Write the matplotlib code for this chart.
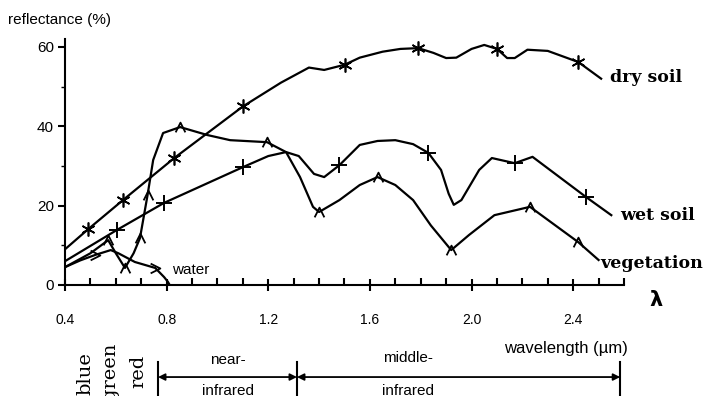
import matplotlib.pyplot as plt
import numpy as np

# curves (wavelength in um, reflectance in %)
dry_x = [0.4, 0.49, 0.63, 0.83, 1.1, 1.25, 1.36, 1.42, 1.5, 1.56, 1.65, 1.72, 1.79, 1.85,
         1.9, 1.94, 2.0, 2.05, 2.1, 2.14, 2.17, 2.22, 2.3, 2.42, 2.51]
dry_y = [9, 14, 21.5, 32, 45, 51, 54.8, 54.2, 55.5, 57.3, 58.8, 59.5, 59.7, 58.5,
         57.2, 57.3, 59.5, 60.5, 59.5, 57.2, 57.2, 59.3, 59, 56.2, 52]
dry_mx = [0.49, 0.63, 0.83, 1.1, 1.5, 1.79, 2.1, 2.42]
dry_my = [14, 21.5, 32, 45, 55.5, 59.7, 59.5, 56.2]

wet_x = [0.4, 0.605, 0.79, 1.1, 1.2, 1.27, 1.32, 1.38, 1.42, 1.48, 1.56, 1.63, 1.70, 1.77,
         1.83, 1.88, 1.91, 1.93, 1.96, 2.03, 2.08, 2.17, 2.24, 2.45, 2.55]
wet_y = [6, 13.9, 20.7, 29.7, 32.5, 33.5, 32.5, 28, 27.2, 30.2, 35.3, 36.3, 36.5, 35.5,
         33.3, 29, 23, 20.2, 21.4, 29, 32, 30.7, 32.3, 22.2, 17.6]
wet_mx = [0.605, 0.79, 1.1, 1.48, 1.83, 2.17, 2.45]
wet_my = [13.9, 20.7, 29.7, 30.2, 33.3, 30.7, 22.2]

veg_x = [0.4, 0.5, 0.57, 0.6, 0.636, 0.67, 0.695, 0.725, 0.747, 0.786, 0.853, 0.96, 1.05,
         1.195, 1.27, 1.325, 1.376, 1.40, 1.48, 1.56, 1.63, 1.70, 1.77, 1.84, 1.92, 1.99,
         2.09, 2.23, 2.42, 2.5]
veg_y = [4.5, 8, 11.3, 8, 4.3, 8, 11.8, 22.7, 31.5, 38.3, 39.8, 37.8, 36.5,
         36, 33.5, 27.2, 19.7, 18.4, 21.4, 25.2, 27.2, 25.2, 21.4, 15, 8.8, 12.6,
         17.6, 19.7, 10.8, 6.3]
veg_mx = [0.57, 0.636, 0.695, 0.725, 0.853, 1.195, 1.40, 1.63, 1.92, 2.23, 2.42]
veg_my = [11.3, 4.3, 11.8, 22.7, 39.8, 36, 18.4, 27.2, 8.8, 19.7, 10.8]

water_x = [0.4, 0.46, 0.52, 0.58, 0.61, 0.675, 0.755, 0.79, 0.805, 0.812]
water_y = [4.5, 6.2, 7.6, 8.8, 8, 5.8, 4.3, 2, 0.8, 0]
water_mx = [0.52, 0.755]
water_my = [7.6, 4.3]

xticks = [0.4, 0.8, 1.2, 1.6, 2.0, 2.4]
xticklabels = ['0.4', '0.8', '1.2', '1.6', '2.0', '2.4']
yticks = [0, 20, 40, 60]

bands = ['blue', 'green', 'red']
band_x = [0.479, 0.577, 0.687]
band_top = [-16.9, -14.6, -17.6]
region_edges = [0.766, 1.313, 2.585]

fig = plt.figure(figsize=(7.16, 3.96), dpi=100)
ax = fig.add_axes([65 / 716, 1 - 285 / 396, (624 - 65) / 716, (285 - 39) / 396])

lw = 1.6
ax.plot(dry_x, dry_y, color='black', lw=lw)
ax.plot(dry_mx, dry_my, ls='none', marker=(6, 2, 0), ms=10, mew=1.2, color='black')
ax.plot(wet_x, wet_y, color='black', lw=lw)
ax.plot(wet_mx, wet_my, ls='none', marker='+', ms=11, mew=1.4, color='black')
ax.plot(veg_x, veg_y, color='black', lw=lw)
ax.plot(veg_mx, veg_my, ls='none', marker=[(-1, -1), (0, 1), (1, -1)], ms=7, mew=1.3,
        mfc='none', color='black')
ax.plot(water_x, water_y, color='black', lw=lw)
ax.plot(water_mx, water_my, ls='none', marker=[(-1, 1), (1, 0), (-1, -1)], ms=7, mew=1.3,
        mfc='none', color='black')

ax.set_xlim(0.4, 2.6)
ax.set_ylim(0, 62)
ax.spines['top'].set_visible(False)
ax.spines['right'].set_visible(False)
ax.spines['left'].set_linewidth(1.5)
ax.spines['bottom'].set_linewidth(1.5)

ax.set_xticks(xticks)
ax.set_xticklabels(xticklabels, fontsize=10, family='Liberation Sans')
ax.set_xticks(np.arange(0.4, 2.61, 0.1), minor=True)
ax.set_yticks(yticks)
ax.set_yticklabels([str(v) for v in yticks], fontsize=11, family='Liberation Sans')
ax.set_yticks([10, 30, 50], minor=True)
ax.tick_params(axis='x', which='major', direction='inout', length=9, width=1.5, pad=16)
ax.tick_params(axis='x', which='minor', direction='in', length=5, width=1.5)
ax.tick_params(axis='y', which='major', direction='out', length=5, width=1.5, pad=3)
ax.tick_params(axis='y', which='minor', direction='out', length=3, width=1)

fig.text(8 / 716, 1 - 20 / 396, 'reflectance (%)', fontsize=11, family='Liberation Sans',
         va='center')

serif = dict(family='DejaVu Serif', weight='bold', fontsize=12.5, va='center', clip_on=False)
ax.text(2.545, 52.2, 'dry soil', **serif)
ax.text(2.585, 17.6, 'wet soil', **serif)
ax.text(2.505, 5.3, 'vegetation', **serif)
ax.text(0.82, 3.8, 'water', fontsize=11, family='Liberation Sans', va='center')
ax.text(2.70, -3.8, 'λ', fontsize=15, weight='bold', va='center', clip_on=False)
ax.text(2.37, -15.9, 'wavelength (µm)', fontsize=12, family='Liberation Sans',
        ha='center', va='center', clip_on=False)

# spectral bands below the axis
for lab, xb, yt in zip(bands, band_x, band_top):
    ax.text(xb, yt, lab, rotation=90, family='DejaVu Serif', fontsize=14,
            ha='center', va='top', clip_on=False)

for xb in region_edges:
    ax.plot([xb, xb], [-19.4, -28], color='black', lw=1.5, clip_on=False)
for x0, x1 in zip(region_edges[:-1], region_edges[1:]):
    ax.annotate('', xy=(x1, -23.2), xytext=(x0, -23.2), annotation_clip=False,
                arrowprops=dict(arrowstyle='<|-|>', color='black', lw=1.3,
                                shrinkA=0, shrinkB=0, mutation_scale=10))
band = dict(fontsize=11, family='Liberation Sans', ha='center', va='center', clip_on=False)
ax.text(1.04, -18.9, 'near-', **band)
ax.text(1.04, -26.6, 'infrared', **band)
ax.text(1.75, -18.3, 'middle-', **band)
ax.text(1.75, -26.6, 'infrared', **band)

fig.savefig('out.png', dpi=100)
